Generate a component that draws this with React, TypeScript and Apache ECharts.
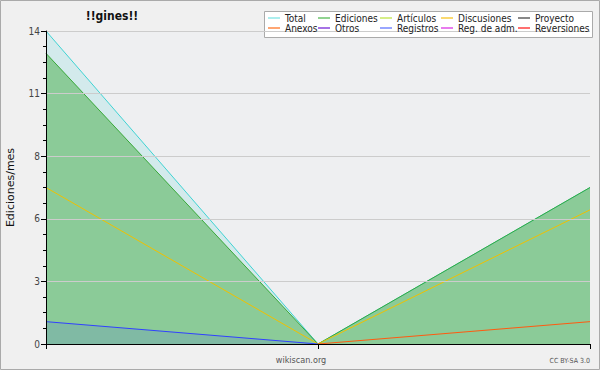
import React, { useEffect, useRef } from "react";
import * as echarts from "echarts";

const categories = ["m1", "m2", "m3"];
const totalValues = [14, 0, 7];
const edicionesValues = [13, 0, 7];
const articulosValues: (number | null)[] = [null, null, null];
const discusionesValues = [7, 0, 6];
const proyectoValues: (number | null)[] = [null, null, null];
const anexosValues = [null, 0, 1];
const otrosValues: (number | null)[] = [null, null, null];
const registrosValues = [1, 0, null];
const regAdmValues: (number | null)[] = [null, null, null];
const reversionesValues: (number | null)[] = [null, null, null];

const seriesNames = [
  "Total", "Ediciones", "Artículos", "Discusiones", "Proyecto",
  "Anexos", "Otros", "Registros", "Reg. de adm.", "Reversiones",
];
const seriesColors = [
  "#3fd3d3", "#3aa83a", "#b8e03a", "#f0c000", "#555555",
  "#ff5a10", "#8030d8", "#3040ff", "#e030e0", "#ff2a2a",
];
const legendColors = [
  "#90e8e8", "#6cc46c", "#c8e860", "#f8cc40", "#606060",
  "#ff8844", "#8844dd", "#7788ff", "#e050e8", "#ff4040",
];
const seriesValues = [
  totalValues, edicionesValues, articulosValues, discusionesValues, proyectoValues,
  anexosValues, otrosValues, registrosValues, regAdmValues, reversionesValues,
];
const areaOpacity = [0.15, 0.47, 0, 0, 0, 0, 0, 0.12, 0, 0];
const yTickLabels = ["0", "3", "6", "8", "11", "14"];

const legendCols = [268, 318, 380, 441, 518];
const legendRows = [13, 23];

export default function App() {
  const ref = useRef<HTMLDivElement>(null);
  useEffect(() => {
    document.body.style.margin = "0";
    const chart = echarts.init(ref.current!, null, { renderer: "svg" });
    const font = "DejaVu Sans";
    const cfont = "'DejaVu Sans Condensed', 'DejaVu Sans'";
    const legends = seriesNames.map((name, i) => ({
      data: [name],
      left: legendCols[i % 5],
      top: legendRows[Math.floor(i / 5)],
      padding: 0,
      icon: "rect",
      itemWidth: 12,
      itemHeight: 1.5,
      itemStyle: { color: legendColors[i] },
      selectedMode: false,
      textStyle: { fontSize: 10, color: "#222", fontFamily: cfont, padding: [0, 0, 0, 0] },
      z: 10,
    }));
    const drawOrder = [0, 1, 2, 3, 4, 6, 8, 9, 7, 5];
    chart.setOption({
      animation: false,
      backgroundColor: "#f0f0f0",
      title: {
        text: "!!gines!!",
        left: 107,
        top: 5,
        textAlign: "center",
        textStyle: { fontSize: 12, fontWeight: "bold", color: "#111", fontFamily: cfont },
      },
      graphic: [
        {
          type: "rect",
          shape: { x: 0.5, y: 0.5, width: 599, height: 369 },
          style: { fill: "none", stroke: "#aaaaaa", lineWidth: 1 },
          z: 100,
        },
        {
          type: "rect",
          shape: { x: 264.5, y: 11.5, width: 328, height: 26 },
          style: { fill: "#ffffff", stroke: "#aaaaaa", lineWidth: 1 },
          z: 5,
        },
        {
          type: "text",
          x: 301,
          y: 360,
          style: { text: "wikiscan.org", fill: "#555", fontSize: 9, fontFamily: cfont, align: "center", verticalAlign: "middle" },
        },
        {
          type: "text",
          x: 590,
          y: 361,
          style: { text: "CC BY-SA 3.0", fill: "#555", fontSize: 7, fontFamily: cfont, align: "right", verticalAlign: "middle" },
        },
      ],
      legend: legends,
      grid: {
        left: 46, right: 10, top: 31, bottom: 26,
        containLabel: false,
        outerBoundsMode: "none",
        show: true, backgroundColor: "#eeeff1", borderWidth: 0,
      },
      xAxis: {
        type: "category",
        data: categories,
        boundaryGap: false,
        axisLine: { lineStyle: { color: "#000", width: 1 } },
        axisTick: { show: true, length: 5, lineStyle: { color: "#000" } },
        axisLabel: { show: false },
        splitLine: { show: false },
        z: 5,
      },
      yAxis: {
        type: "value",
        min: 0,
        max: 14,
        interval: 2.8,
        name: "Ediciones/mes",
        nameLocation: "middle",
        nameGap: 30,
        nameTextStyle: { fontSize: 11, color: "#111", fontFamily: font },
        axisLine: { show: true, lineStyle: { color: "#000", width: 1 } },
        axisTick: { show: true, length: 5, lineStyle: { color: "#000" } },
        minorTick: { show: true, splitNumber: 4, length: 3, lineStyle: { color: "#000" } },
        axisLabel: {
          fontSize: 10,
          color: "#444",
          fontFamily: cfont,
          margin: 6,
          formatter: (v: number) => yTickLabels[Math.round(v / 2.8)] ?? "",
        },
        splitLine: { show: true, lineStyle: { color: "#cccccc", width: 1 } },
        z: 5,
      },
      series: drawOrder.map((i) => ({
        name: seriesNames[i],
        type: "line",
        data: seriesValues[i],
        symbol: "none",
        connectNulls: false,
        lineStyle: { color: seriesColors[i], width: 1 },
        itemStyle: { color: seriesColors[i] },
        areaStyle: areaOpacity[i] > 0 ? { color: seriesColors[i], opacity: areaOpacity[i] } : undefined,
      })),
    });
    return () => chart.dispose();
  }, []);
  return <div ref={ref} style={{ width: 600, height: 370 }} />;
}
